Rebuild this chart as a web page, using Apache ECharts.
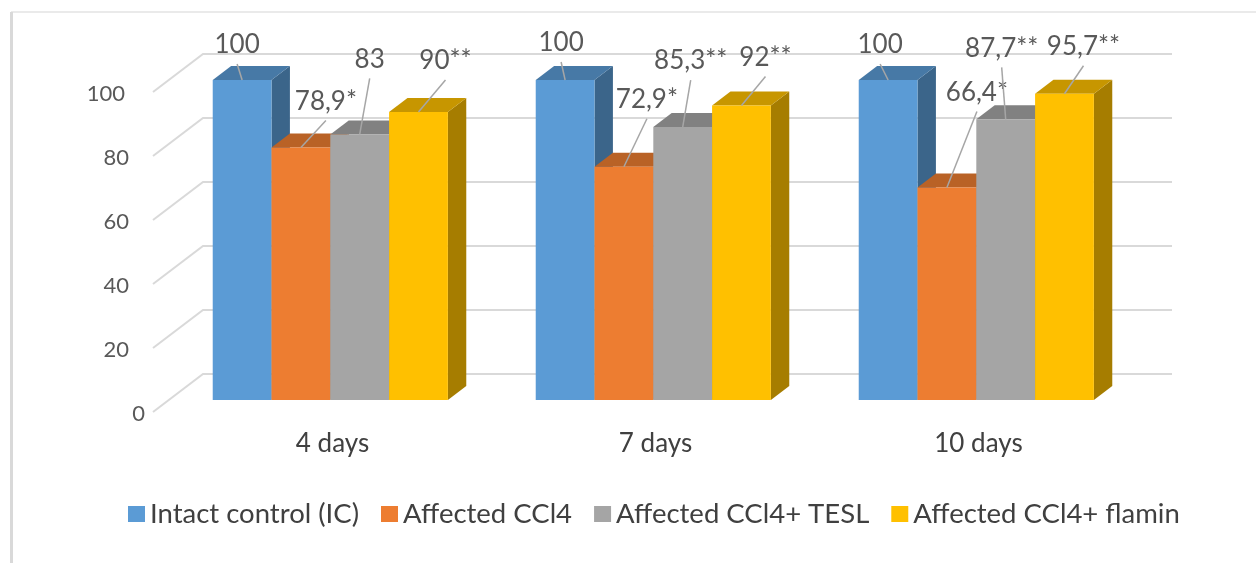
<!DOCTYPE html>
<html>
<head>
<meta charset="utf-8">
<script src="https://cdn.jsdelivr.net/npm/echarts@6/dist/echarts.min.js"></script>
<style>
  html, body { margin: 0; background: #fff; }
  #chart { width: 1256px; height: 563px; }
</style>
</head>
<body>
<div id="chart"></div>
<script>
const categories = ['4 days', '7 days', '10 days'];
const seriesNames = ['Intact control (IC)', 'Affected CCl4', 'Affected CCl4+ TESL', 'Affected CCl4+ flamin'];
const intactControl = [100, 100, 100];
const affectedCCl4 = [78.9, 72.9, 66.4];
const affectedTESL = [83, 85.3, 87.7];
const affectedFlamin = [90, 92, 95.7];
const valueLabels = [
  ['100', '100', '100'],
  ['78,9*', '72,9*', '66,4*'],
  ['83', '85,3**', '87,7**'],
  ['90**', '92**', '95,7**']
];
const yTicks = [0, 20, 40, 60, 80, 100];

const seriesValues = [intactControl, affectedCCl4, affectedTESL, affectedFlamin];
const colors = ['#5b9bd5', '#ed7d31', '#a5a5a5', '#ffc000'];
const FONT = 'Lato, "Open Sans", sans-serif';

// fake 3d: depth vector from floor front to back wall
const DX = 50, DY = 38;
const FRONT = 0.316, BACK = 0.684;
const GROUP = 0.728;

// where each value label sits relative to the bar's front top edge (excel put them by hand)
const labelNudge = [
  [[-5, -35], [-4, -37], [-8, -35]],
  [[25, -46], [23, -67], [30, -95]],
  [[10, -75], [8, -66], [-4, -71]],
  [[27, -51], [24, -48], [19, -47]]
];

function shade(hex, k) {
  const n = parseInt(hex.slice(1), 16);
  const r = Math.round(((n >> 16) & 255) * k);
  const g = Math.round(((n >> 8) & 255) * k);
  const b = Math.round((n & 255) * k);
  return 'rgb(' + r + ',' + g + ',' + b + ')';
}

function barGeom(api, ci, val, si) {
  const top = api.coord([ci, val]);
  const base = api.coord([ci, 0]);
  const band = api.size([1, 0])[0];
  const bw = band * GROUP / 4;
  const x0 = top[0] - band * GROUP / 2 + si * bw + DX * FRONT;
  return {
    x0: x0,
    x1: x0 + bw,
    yt: top[1] - DY * FRONT,
    yb: base[1] - DY * FRONT,
    dx: DX * (BACK - FRONT),
    dy: DY * (BACK - FRONT)
  };
}

function renderBar(si) {
  return function (params, api) {
    const g = barGeom(api, api.value(0), api.value(1), si);
    const c = colors[si];
    return {
      type: 'group',
      children: [
        {
          type: 'polygon',
          shape: { points: [[g.x1, g.yt], [g.x1, g.yb], [g.x1 + g.dx, g.yb - g.dy], [g.x1 + g.dx, g.yt - g.dy]] },
          style: { fill: shade(c, 0.65) }
        },
        {
          type: 'polygon',
          shape: { points: [[g.x0, g.yt], [g.x1, g.yt], [g.x1 + g.dx, g.yt - g.dy], [g.x0 + g.dx, g.yt - g.dy]] },
          style: { fill: shade(c, 0.78) }
        },
        {
          type: 'rect',
          shape: { x: g.x0, y: g.yt, width: g.x1 - g.x0, height: g.yb - g.yt },
          style: { fill: c }
        }
      ]
    };
  };
}

function renderLabel(params, api) {
  const ci = api.value(0), si = api.value(2);
  const g = barGeom(api, ci, api.value(1), si);
  const ax = (g.x0 + g.x1) / 2, ay = g.yt;
  const nd = labelNudge[si][ci];
  const lx = ax + nd[0], ly = ay + nd[1];
  return {
    type: 'group',
    children: [
      {
        type: 'line',
        shape: { x1: lx, y1: ly + 19, x2: ax, y2: ay },
        style: { stroke: '#a6a6a6', lineWidth: 1.5 }
      },
      {
        type: 'text',
        x: lx, y: ly,
        style: {
          text: valueLabels[si][ci],
          fill: '#595959',
          font: '26px ' + FONT,
          align: 'center',
          verticalAlign: 'middle'
        }
      }
    ]
  };
}

function renderWall(params, api) {
  const v = api.value(0);
  const p = api.coord([0, v]);
  const cs = params.coordSys;
  const y = p[1];
  const shift = v === 0 ? 16 : (v === 100 ? -4 : 0);
  return {
    type: 'group',
    children: [
      {
        type: 'polyline',
        shape: { points: [[cs.x, y], [cs.x + DX, y - DY], [cs.x + cs.width + DX, y - DY]] },
        style: { stroke: '#d9d9d9', lineWidth: 2, fill: null }
      },
      {
        type: 'text',
        x: cs.x - 24 + shift, y: y + 2,
        style: {
          text: String(v),
          fill: '#595959',
          font: '22px ' + FONT,
          align: 'right',
          verticalAlign: 'middle'
        }
      }
    ]
  };
}

const labelData = [];
seriesValues.forEach(function (vals, si) {
  vals.forEach(function (v, ci) { labelData.push([ci, v, si]); });
});

const chart = echarts.init(document.getElementById('chart'));

const series = [{
  type: 'custom',
  name: 'walls',
  renderItem: renderWall,
  data: yTicks.map(function (t) { return [t]; }),
  encode: { y: 0 },
  silent: true,
  z: 1
}];
seriesValues.forEach(function (vals, si) {
  series.push({
    type: 'custom',
    name: seriesNames[si],
    renderItem: renderBar(si),
    itemStyle: { color: colors[si] },
    data: vals.map(function (v, ci) { return [ci, v]; }),
    encode: { x: 0, y: 1 },
    z: 2
  });
});
series.push({
  type: 'custom',
  name: 'labels',
  renderItem: renderLabel,
  data: labelData,
  encode: { x: 0, y: 1 },
  silent: true,
  z: 5
});

chart.setOption({
  backgroundColor: '#fff',
  animation: false,
  grid: { left: 153, right: 134, top: 92, bottom: 151 },
  xAxis: {
    type: 'category',
    data: categories,
    axisLine: { show: false },
    axisTick: { show: false },
    axisLabel: {
      margin: 19,
      fontSize: 26,
      color: '#404040',
      fontFamily: FONT,
      padding: [0, 0, 0, 36]
    }
  },
  yAxis: {
    type: 'value',
    min: 0,
    max: 100,
    interval: 20,
    axisLabel: { show: false },
    axisLine: { show: false },
    axisTick: { show: false },
    splitLine: { show: false }
  },
  legend: {
    data: seriesNames,
    top: 500,
    left: 128,
    padding: 0,
    icon: 'rect',
    itemWidth: 17,
    itemHeight: 16,
    itemGap: 22,
    textStyle: { fontSize: 27.5, color: '#404040', fontFamily: FONT }
  },
  graphic: [
    { type: 'line', shape: { x1: 11, y1: 12, x2: 1256, y2: 12 }, style: { stroke: '#e3e3e3', lineWidth: 1.5 } },
    { type: 'line', shape: { x1: 11.5, y1: 12, x2: 11.5, y2: 563 }, style: { stroke: '#d9d9d9', lineWidth: 3 } }
  ],
  series: series
});
</script>
</body>
</html>
